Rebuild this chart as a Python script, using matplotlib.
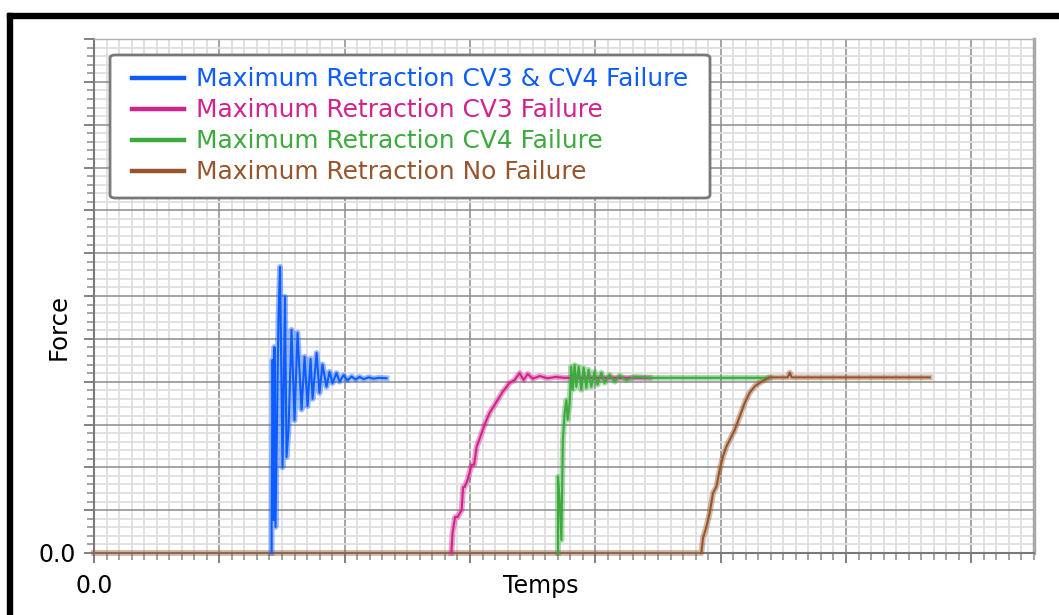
import matplotlib
matplotlib.use("Agg")
import matplotlib.pyplot as plt
from matplotlib.patches import FancyBboxPatch, Rectangle
from matplotlib.ticker import MultipleLocator, FuncFormatter

# retraction runs: time (s) and force, one pair of lists per run
t_cv3_cv4 = [0.0, 1.417, 1.417, 1.425, 1.433, 1.440, 1.448, 1.472, 1.484, 1.504, 1.524,
             1.536, 1.552, 1.576, 1.600, 1.624, 1.656, 1.680, 1.704, 1.728, 1.744,
             1.776, 1.799, 1.823, 1.855, 1.879, 1.903, 1.935, 1.959, 1.991, 2.023,
             2.055, 2.087, 2.119, 2.151, 2.191, 2.231, 2.271, 2.334]
f_cv3_cv4 = [0.0, 0.0, 0.70, 4.51, 0.77, 4.81, 0.61, 5.50, 6.68, 2.00, 5.98,
             2.24, 2.87, 5.21, 3.10, 5.14, 3.35, 4.58, 3.43, 4.53, 3.60,
             4.67, 3.74, 4.40, 3.88, 4.23, 3.97, 4.20, 4.00, 4.15, 4.03,
             4.12, 4.05, 4.11, 4.06, 4.10, 4.07, 4.09, 4.08]

t_cv3 = [0.0, 2.851, 2.861, 2.881, 2.901, 2.933, 2.945, 2.957, 2.981, 3.013, 3.033,
         3.053, 3.093, 3.116, 3.156, 3.212, 3.260, 3.316, 3.356, 3.396, 3.428,
         3.460, 3.500, 3.556, 3.619, 3.683, 3.755, 4.433]
f_cv3 = [0.0, 0.0, 0.47, 0.84, 0.84, 1.00, 1.54, 1.54, 1.71, 2.06, 2.06,
         2.48, 2.80, 2.99, 3.27, 3.53, 3.76, 3.97, 4.04, 4.20, 4.04,
         4.18, 4.07, 4.13, 4.08, 4.11, 4.09, 4.09]

t_cv4 = [0.0, 3.702, 3.702, 3.715, 3.729, 3.741, 3.755, 3.769, 3.779, 3.795, 3.808,
         3.819, 3.835, 3.848, 3.867, 3.888, 3.907, 3.928, 3.946, 3.968, 3.994,
         4.018, 4.048, 4.074, 4.114, 4.154, 4.194, 4.247, 4.314, 4.433, 5.391]
f_cv4 = [0.0, 0.0, 1.78, 1.24, 0.30, 2.64, 3.27, 3.57, 3.11, 3.50, 4.35,
         3.81, 4.39, 3.88, 4.35, 3.81, 4.32, 3.86, 4.28, 3.88, 4.23,
         3.93, 4.21, 3.97, 4.16, 4.00, 4.14, 4.04, 4.11, 4.09, 4.09]

t_nominal = [0.0, 4.846, 4.859, 4.886, 4.912, 4.939, 4.966, 4.992, 5.018, 5.045, 5.072,
             5.112, 5.151, 5.191, 5.231, 5.271, 5.311, 5.351, 5.391, 5.535, 5.551,
             5.567, 6.668]
f_nominal = [0.0, 0.0, 0.35, 0.61, 0.93, 1.40, 1.55, 1.94, 2.25, 2.48, 2.64,
             2.87, 3.18, 3.50, 3.74, 3.89, 3.97, 4.04, 4.10, 4.10, 4.21,
             4.10, 4.10]

labels = ["Maximum Retraction CV3 & CV4 Failure",
          "Maximum Retraction CV3 Failure",
          "Maximum Retraction CV4 Failure",
          "Maximum Retraction No Failure"]
colors = ["#0d5cff", "#d2238c", "#3caa3c", "#96552d"]

fig = plt.figure(figsize=(10.59, 6.15), dpi=100)
fig.patch.set_facecolor("white")
ax = fig.add_axes([94 / 1059, 1 - 553 / 615, 940 / 1059, 514 / 615])

# black window frame round the plot
fig.patches.append(Rectangle((7 / 1059, 0), 5 / 1059, 1 - 13 / 615, transform=fig.transFigure,
                             color="black", zorder=0))
fig.patches.append(Rectangle((7 / 1059, 1 - 18 / 615), 1 - 7 / 1059, 5 / 615,
                             transform=fig.transFigure, color="black", zorder=0))

runs = [(t_cv3_cv4, f_cv3_cv4), (t_cv3, f_cv3), (t_cv4, f_cv4), (t_nominal, f_nominal)]
handles = []
for i, ((t, f), c, lab) in enumerate(zip(runs, colors, labels)):
    # the runs share the flat zero start; only the last one drawn shows it
    s = 0 if i == len(runs) - 1 else 1
    ax.plot(t[s:], f[s:], color=c, lw=4.2, alpha=0.42, clip_on=False, zorder=3)
    ax.plot(t[1:], f[1:], color=c, lw=1.5, clip_on=False, zorder=4)
    h, = ax.plot([], [], color=c, lw=3.2, label=lab)
    handles.append(h)

ax.set_xlim(0, 7.5)
ax.set_ylim(0, 12)

ax.xaxis.set_major_locator(MultipleLocator(1))
ax.xaxis.set_minor_locator(MultipleLocator(0.1))
ax.yaxis.set_major_locator(MultipleLocator(1))
ax.yaxis.set_minor_locator(MultipleLocator(0.2))
zero_only = FuncFormatter(lambda v, pos: "0.0" if abs(v) < 1e-9 else "")
ax.xaxis.set_major_formatter(zero_only)
ax.yaxis.set_major_formatter(zero_only)

ax.grid(which="major", color="#8c8c8c", lw=1.1, zorder=1)
ax.grid(which="minor", color="#dedede", lw=1.3, zorder=0)
ax.set_axisbelow(True)

ax.tick_params(which="major", direction="out", length=7, width=1.3, color="#777777",
               labelsize=17, labelcolor="black")
ax.tick_params(which="minor", direction="out", length=5, width=1.1, color="#8a8a8a")
ax.tick_params(axis="y", which="major", pad=6)
ax.tick_params(axis="x", which="major", pad=8)

for side in ["left", "bottom"]:
    ax.spines[side].set_color("#7a7a7a")
    ax.spines[side].set_linewidth(1.5)
ax.spines["right"].set_color("#a8a8a8")
ax.spines["right"].set_linewidth(2.5)
ax.spines["top"].set_color("#b0b0b0")
ax.spines["top"].set_linewidth(1.0)

ax.set_xlabel("Temps", fontsize=17, va="top")
ax.xaxis.set_label_coords(0.4755, -0.041)
ax.set_ylabel("Force", fontsize=17.5)
ax.yaxis.set_label_coords(-0.025, 0.44)

# legend box with wider side padding than the default frame allows
ax.add_patch(FancyBboxPatch((16 / 940, (553 - 198) / 514), 600 / 940, 143 / 514,
                            boxstyle="round,pad=0,rounding_size=0.006",
                            transform=ax.transAxes, facecolor="white",
                            edgecolor="#787878", lw=2, zorder=6))
leg = ax.legend(handles=handles, loc="upper left",
                bbox_to_anchor=((132 - 94) / 940, (553 - 67.5) / 514),
                frameon=False, borderpad=0, borderaxespad=0, fontsize=17.9,
                handlelength=2.1, handletextpad=0.48, labelspacing=0.28,
                labelcolor="linecolor")
leg.set_zorder(7)

fig.savefig("out.png", dpi=100, facecolor="white")
